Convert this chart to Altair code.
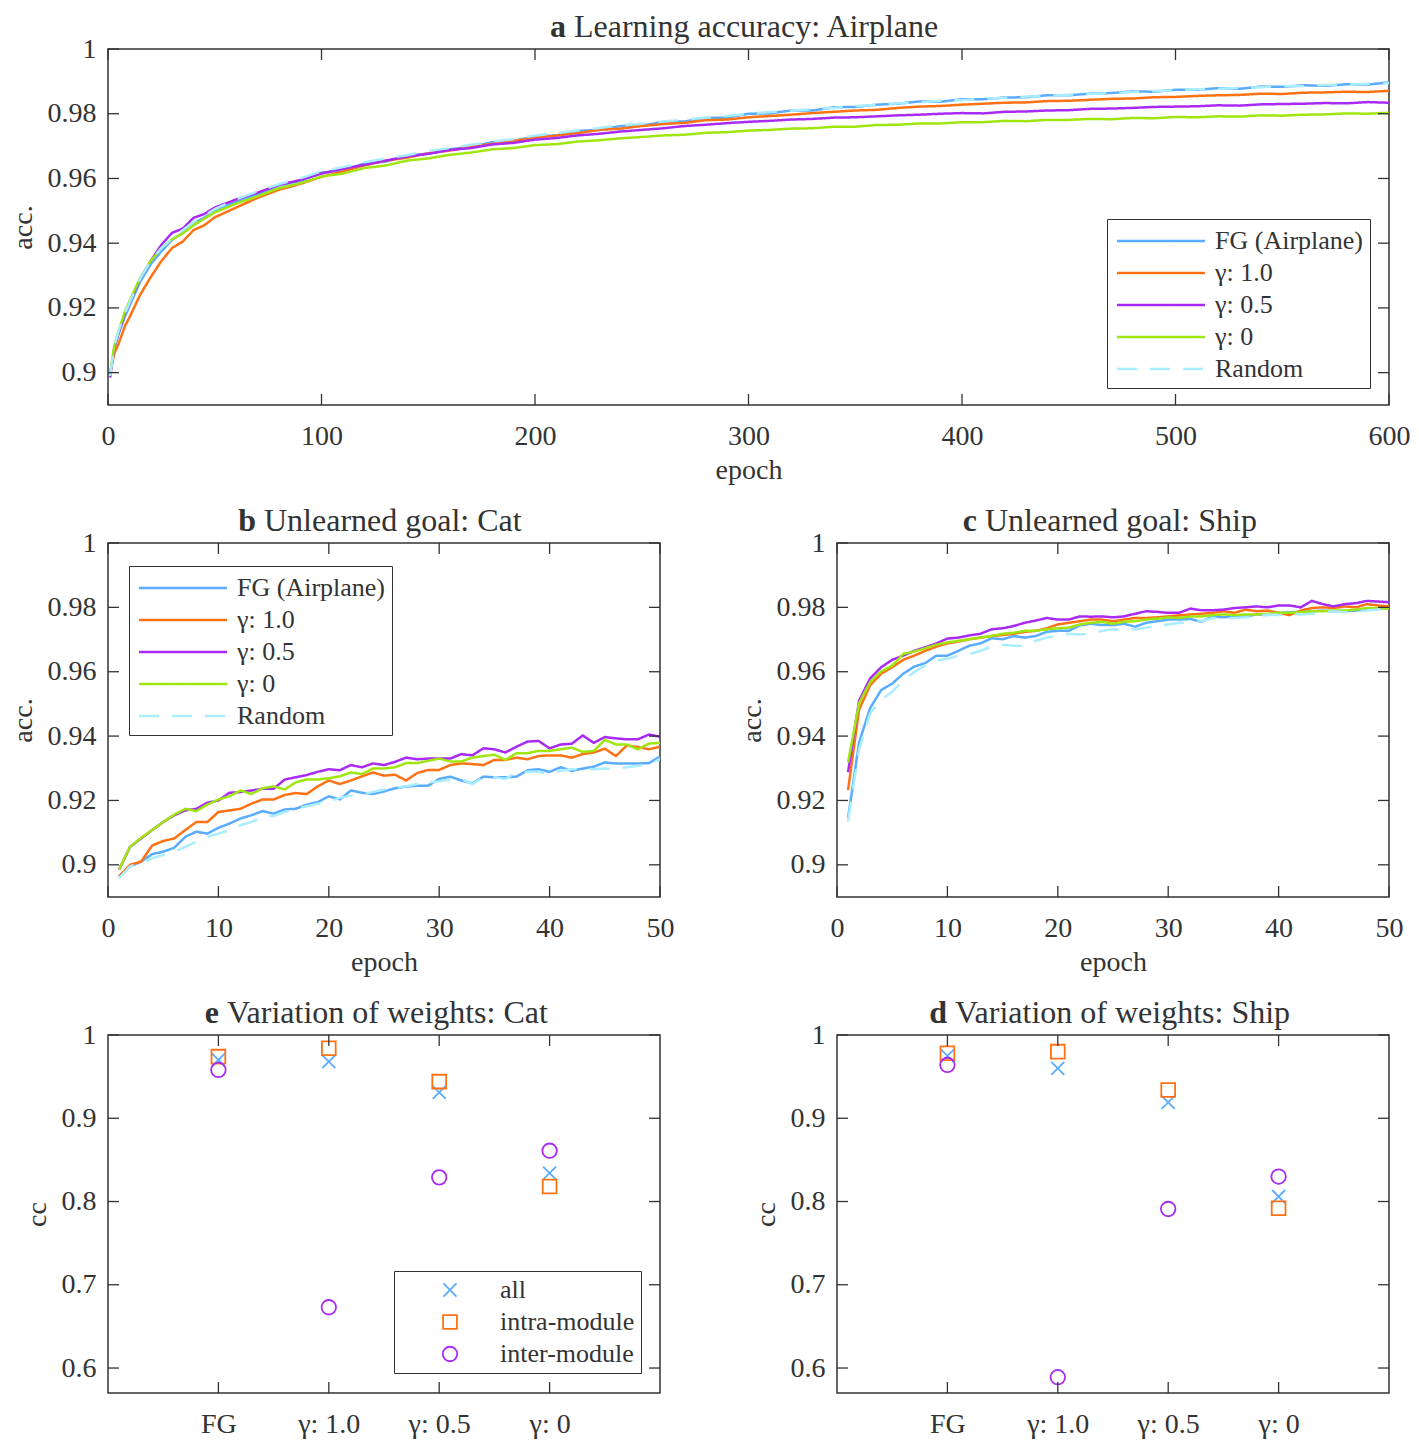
import altair as alt
import pandas as pd

FONT = "Liberation Serif"
INK = "#333333"

SERIES = ["FG (Airplane)", "γ: 1.0", "γ: 0.5", "γ: 0", "Random"]
SERIES_COLORS = ["#59acff", "#ff7214", "#a92af5", "#9fe610", "#a9edff"]
SERIES_DASH = [[1, 0], [1, 0], [1, 0], [1, 0], [20, 13]]

# ---------------- panel a : learning accuracy (Airplane) ----------------
epoch_a = [1, 3, 5, 8, 10, 15, 20, 25, 30, 35, 40, 45, 50,
           60, 70, 80, 90, 100, 110, 120, 130, 140, 150,
           160, 170, 180, 190, 200, 210, 220, 230, 240, 250,
           260, 270, 280, 290, 300, 310, 320, 330, 340, 350,
           360, 370, 380, 390, 400, 410, 420, 430, 440, 450,
           460, 470, 480, 490, 500, 510, 520, 530, 540, 550,
           560, 570, 580, 590, 600]
fg_a = [0.8995, 0.9075, 0.9120, 0.9175, 0.9205, 0.9280, 0.9335, 0.9375, 0.9410, 0.9432, 0.9462, 0.9478, 0.9500,
        0.9528, 0.9550, 0.9578, 0.9592, 0.9618, 0.9625, 0.9646, 0.9652, 0.9670, 0.9677,
        0.9690, 0.9698, 0.9712, 0.9716, 0.9730, 0.9733, 0.9747, 0.9750, 0.9762, 0.9763,
        0.9775, 0.9776, 0.9787, 0.9788, 0.9800, 0.9801, 0.9810, 0.9810, 0.9820, 0.9821,
        0.9828, 0.9831, 0.9838, 0.9837, 0.9845, 0.9845, 0.9850, 0.9851, 0.9857, 0.9857,
        0.9862, 0.9864, 0.9869, 0.9868, 0.9874, 0.9874, 0.9879, 0.9877, 0.9884, 0.9883,
        0.9888, 0.9886, 0.9891, 0.9890, 0.9897]
g10_a = [0.9000, 0.9060, 0.9090, 0.9145, 0.9170, 0.9240, 0.9295, 0.9345, 0.9385, 0.9405, 0.9440, 0.9455, 0.9480,
         0.9510, 0.9540, 0.9565, 0.9583, 0.9605, 0.9622, 0.9640, 0.9655, 0.9664, 0.9678,
         0.9686, 0.9698, 0.9707, 0.9716, 0.9725, 0.9733, 0.9740, 0.9750, 0.9754, 0.9762,
         0.9768, 0.9772, 0.9780, 0.9782, 0.9789, 0.9793, 0.9797, 0.9802, 0.9806, 0.9810,
         0.9812, 0.9818, 0.9822, 0.9824, 0.9828, 0.9831, 0.9834, 0.9835, 0.9839, 0.9840,
         0.9843, 0.9846, 0.9847, 0.9851, 0.9852, 0.9855, 0.9857, 0.9858, 0.9862, 0.9861,
         0.9865, 0.9866, 0.9868, 0.9867, 0.9871]
g05_a = [0.8985, 0.9080, 0.9125, 0.9185, 0.9215, 0.9290, 0.9345, 0.9395, 0.9432, 0.9445, 0.9478, 0.9490, 0.9510,
         0.9535, 0.9556, 0.9580, 0.9595, 0.9615, 0.9630, 0.9642, 0.9655, 0.9668, 0.9676,
         0.9688, 0.9694, 0.9705, 0.9710, 0.9720, 0.9725, 0.9733, 0.9738, 0.9745, 0.9750,
         0.9755, 0.9762, 0.9766, 0.9771, 0.9775, 0.9778, 0.9782, 0.9784, 0.9788, 0.9789,
         0.9792, 0.9795, 0.9797, 0.9800, 0.9802, 0.9801, 0.9806, 0.9807, 0.9810, 0.9811,
         0.9815, 0.9816, 0.9818, 0.9821, 0.9822, 0.9823, 0.9826, 0.9825, 0.9829, 0.9830,
         0.9831, 0.9833, 0.9832, 0.9836, 0.9834]
g0_a = [0.8995, 0.9085, 0.9130, 0.9190, 0.9220, 0.9292, 0.9345, 0.9385, 0.9412, 0.9430, 0.9455, 0.9475, 0.9495,
        0.9522, 0.9545, 0.9570, 0.9585, 0.9606, 0.9615, 0.9632, 0.9640, 0.9655, 0.9662,
        0.9673, 0.9680, 0.9690, 0.9694, 0.9703, 0.9706, 0.9714, 0.9718, 0.9724, 0.9728,
        0.9733, 0.9735, 0.9741, 0.9743, 0.9748, 0.9750, 0.9754, 0.9755, 0.9760, 0.9760,
        0.9765, 0.9766, 0.9770, 0.9770, 0.9774, 0.9774, 0.9778, 0.9777, 0.9781, 0.9781,
        0.9784, 0.9783, 0.9787, 0.9786, 0.9790, 0.9789, 0.9792, 0.9791, 0.9795, 0.9794,
        0.9797, 0.9798, 0.9801, 0.9800, 0.9803]
rand_a = [0.8990, 0.9085, 0.9130, 0.9185, 0.9215, 0.9290, 0.9345, 0.9385, 0.9415, 0.9440, 0.9465, 0.9485, 0.9505,
          0.9535, 0.9560, 0.9582, 0.9600, 0.9622, 0.9635, 0.9650, 0.9662, 0.9672, 0.9685,
          0.9694, 0.9704, 0.9714, 0.9722, 0.9733, 0.9740, 0.9748, 0.9756, 0.9764, 0.9769,
          0.9776, 0.9782, 0.9788, 0.9793, 0.9800, 0.9805, 0.9809, 0.9815, 0.9818, 0.9824,
          0.9827, 0.9832, 0.9835, 0.9840, 0.9842, 0.9847, 0.9849, 0.9853, 0.9855, 0.9859,
          0.9861, 0.9864, 0.9867, 0.9870, 0.9872, 0.9876, 0.9877, 0.9880, 0.9882, 0.9885,
          0.9886, 0.9889, 0.9890, 0.9893, 0.9894]

# ---------------- panels b / c : unlearned goals ----------------
epoch_bc = list(range(1, 51))
fg_cat = [0.8964, 0.8995, 0.9010, 0.9033, 0.9041, 0.9053, 0.9087, 0.9103, 0.9097, 0.9115,
          0.9128, 0.9144, 0.9154, 0.9167, 0.9159, 0.9172, 0.9174, 0.9187, 0.9195, 0.9213,
          0.9203, 0.9231, 0.9224, 0.9220, 0.9228, 0.9238, 0.9243, 0.9246, 0.9246, 0.9267,
          0.9274, 0.9262, 0.9253, 0.9274, 0.9272, 0.9272, 0.9274, 0.9294, 0.9297, 0.9289,
          0.9303, 0.9292, 0.9299, 0.9305, 0.9318, 0.9315, 0.9315, 0.9315, 0.9316, 0.9336]
g10_cat = [0.8964, 0.9000, 0.9010, 0.9060, 0.9074, 0.9082, 0.9108, 0.9133, 0.9133, 0.9164,
           0.9169, 0.9174, 0.9190, 0.9203, 0.9203, 0.9217, 0.9223, 0.9220, 0.9244, 0.9262,
           0.9251, 0.9262, 0.9275, 0.9287, 0.9277, 0.9280, 0.9262, 0.9285, 0.9295, 0.9295,
           0.9310, 0.9315, 0.9313, 0.9310, 0.9326, 0.9326, 0.9333, 0.9328, 0.9338, 0.9340,
           0.9340, 0.9333, 0.9344, 0.9349, 0.9361, 0.9338, 0.9371, 0.9366, 0.9359, 0.9367]
g05_cat = [0.8985, 0.9056, 0.9082, 0.9108, 0.9133, 0.9154, 0.9169, 0.9174, 0.9193, 0.9200,
           0.9224, 0.9226, 0.9231, 0.9236, 0.9236, 0.9265, 0.9272, 0.9279, 0.9289, 0.9297,
           0.9294, 0.9310, 0.9303, 0.9315, 0.9310, 0.9320, 0.9333, 0.9328, 0.9330, 0.9330,
           0.9330, 0.9344, 0.9340, 0.9362, 0.9359, 0.9349, 0.9367, 0.9383, 0.9385, 0.9362,
           0.9374, 0.9376, 0.9402, 0.9379, 0.9397, 0.9393, 0.9390, 0.9390, 0.9405, 0.9398]
g0_cat = [0.8985, 0.9056, 0.9084, 0.9108, 0.9133, 0.9156, 0.9174, 0.9167, 0.9187, 0.9203,
          0.9213, 0.9231, 0.9220, 0.9238, 0.9244, 0.9234, 0.9256, 0.9265, 0.9265, 0.9269,
          0.9275, 0.9287, 0.9282, 0.9299, 0.9299, 0.9303, 0.9316, 0.9316, 0.9323, 0.9330,
          0.9321, 0.9321, 0.9333, 0.9338, 0.9342, 0.9326, 0.9347, 0.9347, 0.9354, 0.9354,
          0.9359, 0.9364, 0.9351, 0.9354, 0.9388, 0.9374, 0.9374, 0.9359, 0.9377, 0.9379]
rand_cat = [0.8959, 0.8995, 0.9005, 0.9020, 0.9031, 0.9041, 0.9056, 0.9072, 0.9087, 0.9097,
            0.9108, 0.9123, 0.9133, 0.9151, 0.9152, 0.9164, 0.9174, 0.9182, 0.9190, 0.9197,
            0.9208, 0.9215, 0.9220, 0.9226, 0.9234, 0.9240, 0.9244, 0.9251, 0.9256, 0.9260,
            0.9265, 0.9267, 0.9251, 0.9272, 0.9272, 0.9267, 0.9287, 0.9289, 0.9289, 0.9282,
            0.9292, 0.9297, 0.9299, 0.9297, 0.9299, 0.9297, 0.9303, 0.9308, 0.9313, 0.9328]

fg_ship = [0.9145, 0.9380, 0.9487, 0.9543, 0.9563, 0.9594, 0.9616, 0.9627, 0.9650, 0.9650,
           0.9665, 0.9681, 0.9688, 0.9704, 0.9701, 0.9711, 0.9706, 0.9711, 0.9724, 0.9727,
           0.9727, 0.9744, 0.9749, 0.9745, 0.9745, 0.9749, 0.9740, 0.9752, 0.9757, 0.9762,
           0.9762, 0.9764, 0.9755, 0.9772, 0.9769, 0.9772, 0.9772, 0.9778, 0.9776, 0.9783,
           0.9785, 0.9786, 0.9788, 0.9790, 0.9788, 0.9788, 0.9790, 0.9796, 0.9796, 0.9798]
g10_ship = [0.9232, 0.9482, 0.9558, 0.9594, 0.9614, 0.9637, 0.9650, 0.9665, 0.9678, 0.9688,
            0.9694, 0.9701, 0.9706, 0.9711, 0.9714, 0.9718, 0.9724, 0.9727, 0.9735, 0.9747,
            0.9752, 0.9757, 0.9762, 0.9762, 0.9757, 0.9762, 0.9767, 0.9767, 0.9769, 0.9772,
            0.9775, 0.9778, 0.9780, 0.9783, 0.9788, 0.9783, 0.9793, 0.9788, 0.9790, 0.9783,
            0.9776, 0.9790, 0.9798, 0.9800, 0.9798, 0.9803, 0.9800, 0.9810, 0.9806, 0.9803]
g05_ship = [0.9288, 0.9510, 0.9579, 0.9614, 0.9637, 0.9650, 0.9665, 0.9676, 0.9688, 0.9703,
            0.9706, 0.9713, 0.9718, 0.9732, 0.9735, 0.9742, 0.9752, 0.9759, 0.9767, 0.9762,
            0.9762, 0.9772, 0.9771, 0.9772, 0.9769, 0.9772, 0.9780, 0.9788, 0.9786, 0.9783,
            0.9783, 0.9796, 0.9791, 0.9791, 0.9793, 0.9798, 0.9800, 0.9803, 0.9800, 0.9806,
            0.9806, 0.9800, 0.9820, 0.9810, 0.9803, 0.9810, 0.9813, 0.9820, 0.9818, 0.9816]
g0_ship = [0.9318, 0.9502, 0.9568, 0.9601, 0.9619, 0.9655, 0.9663, 0.9673, 0.9684, 0.9691,
           0.9696, 0.9701, 0.9706, 0.9711, 0.9718, 0.9721, 0.9727, 0.9727, 0.9732, 0.9735,
           0.9737, 0.9747, 0.9752, 0.9755, 0.9749, 0.9755, 0.9757, 0.9762, 0.9765, 0.9769,
           0.9767, 0.9772, 0.9772, 0.9776, 0.9778, 0.9776, 0.9778, 0.9778, 0.9780, 0.9783,
           0.9783, 0.9785, 0.9788, 0.9788, 0.9790, 0.9790, 0.9793, 0.9798, 0.9798, 0.9796]
rand_ship = [0.9135, 0.9359, 0.9471, 0.9512, 0.9538, 0.9573, 0.9599, 0.9620, 0.9635, 0.9640,
             0.9650, 0.9655, 0.9665, 0.9678, 0.9684, 0.9681, 0.9680, 0.9696, 0.9706, 0.9711,
             0.9718, 0.9716, 0.9718, 0.9727, 0.9732, 0.9729, 0.9732, 0.9737, 0.9742, 0.9747,
             0.9752, 0.9752, 0.9757, 0.9767, 0.9765, 0.9767, 0.9769, 0.9772, 0.9778, 0.9776,
             0.9780, 0.9778, 0.9780, 0.9783, 0.9788, 0.9785, 0.9788, 0.9790, 0.9793, 0.9793]

# ---------------- panels e / d : variation of weights ----------------
METHODS = ["FG", "γ: 1.0", "γ: 0.5", "γ: 0"]
KINDS = ["all", "intra-module", "inter-module"]
KIND_COLORS = ["#59acff", "#ff7214", "#a92af5"]
cat_all = [0.970, 0.968, 0.931, 0.834]
cat_intra = [0.974, 0.984, 0.944, 0.818]
cat_inter = [0.958, 0.673, 0.829, 0.861]
ship_all = [0.975, 0.960, 0.919, 0.806]
ship_intra = [0.978, 0.980, 0.934, 0.792]
ship_inter = [0.964, 0.589, 0.791, 0.830]

# axis ticks
ticks_acc = [0.9, 0.92, 0.94, 0.96, 0.98, 1.0]
ticks_epoch_a = [0, 100, 200, 300, 400, 500, 600]
ticks_epoch_bc = [0, 10, 20, 30, 40, 50]
ticks_cc = [0.6, 0.7, 0.8, 0.9, 1.0]

TITLES = {
    "a": "Learning accuracy: Airplane",
    "b": "Unlearned goal: Cat",
    "c": "Unlearned goal: Ship",
    "e": "Variation of weights: Cat",
    "d": "Variation of weights: Ship",
}

CROSS = "M-1,-1L1,1M-1,1L1,-1"
LEGEND_LINE = "M-3,0H3"
TICK_LEN = 11

W_A, H_A = 1281, 356
W_S, H_BC, H_ED = 552, 354, 358
GAP_X = 177
LINE_LEG_W, LINE_LEG_H = 263, 169
PT_LEG_W, PT_LEG_H = 246, 102


def series_frame(epochs, lists):
    rows = []
    for name, vals in zip(SERIES, lists):
        for e, v in zip(epochs, vals):
            rows.append({"epoch": e, "acc": v, "series": name})
    return pd.DataFrame(rows)


def title_layers(letter, split_x):
    df = pd.DataFrame({"letter": [letter], "text": [TITLES[letter]]})
    bold = alt.Chart(df).mark_text(font=FONT, fontSize=32, fontWeight="bold", align="right",
                                   baseline="alphabetic", color=INK).encode(
        text="letter:N", x=alt.value(split_x - 4), y=alt.value(-12))
    rest = alt.Chart(df).mark_text(font=FONT, fontSize=32, align="left",
                                   baseline="alphabetic", color=INK).encode(
        text="text:N", x=alt.value(split_x + 4), y=alt.value(-12))
    return [bold, rest]


def tick_layers(x_enc_field, xs, x_axis, x_df, ys, y_axis, y_vals, w, h):
    ydf = pd.DataFrame({"v": y_vals})
    left = alt.Chart(ydf).mark_rule(color=INK, strokeWidth=1.3).encode(
        y=alt.Y("v:Q", scale=ys, axis=y_axis), x=alt.value(0), x2=alt.value(TICK_LEN))
    right = alt.Chart(ydf).mark_rule(color=INK, strokeWidth=1.3).encode(
        y=alt.Y("v:Q", scale=ys, axis=y_axis), x=alt.value(w - TICK_LEN), x2=alt.value(w))
    bottom = alt.Chart(x_df).mark_rule(color=INK, strokeWidth=1.3).encode(
        x=alt.X(x_enc_field, scale=xs, axis=x_axis), y=alt.value(h - TICK_LEN), y2=alt.value(h))
    top = alt.Chart(x_df).mark_rule(color=INK, strokeWidth=1.3).encode(
        x=alt.X(x_enc_field, scale=xs, axis=x_axis), y=alt.value(0), y2=alt.value(TICK_LEN))
    return [left, right, bottom, top]


def line_legend(lx, ly):
    return alt.Legend(orient="none", legendX=lx, legendY=ly, title=None, direction="vertical",
                      strokeColor=INK, fillColor="white", padding=6,
                      symbolType=LEGEND_LINE, symbolSize=860, symbolStrokeWidth=2.6,
                      symbolOffset=32,
                      labelFont=FONT, labelFontSize=26, labelColor=INK, labelOffset=38,
                      rowPadding=3, labelLimit=400)


def line_panel(epochs, lists, x_domain, x_ticks, w, h, letter, split_x, lx, ly):
    df = series_frame(epochs, lists)
    xs = alt.Scale(domain=x_domain, nice=False, zero=False)
    ys = alt.Scale(domain=[0.89, 1.0], nice=False, zero=False)
    x_axis = alt.Axis(values=x_ticks, title="epoch", format="d")
    y_axis = alt.Axis(values=ticks_acc, title="acc.", format=".2~f")
    leg = line_legend(lx, ly)
    lines = alt.Chart(df).mark_line(strokeWidth=2.5, clip=True).encode(
        x=alt.X("epoch:Q", scale=xs, axis=x_axis),
        y=alt.Y("acc:Q", scale=ys, axis=y_axis),
        color=alt.Color("series:N", scale=alt.Scale(domain=SERIES, range=SERIES_COLORS), legend=leg),
        strokeDash=alt.StrokeDash("series:N", scale=alt.Scale(domain=SERIES, range=SERIES_DASH), legend=leg),
    )
    xdf = pd.DataFrame({"v": x_ticks})
    layers = [lines] + tick_layers("v:Q", xs, x_axis, xdf, ys, y_axis, ticks_acc, w, h) \
        + title_layers(letter, split_x)
    return alt.layer(*layers).properties(width=w, height=h)


def scatter_panel(v_all, v_intra, v_inter, letter, split_x, lx, ly, w=W_S, h=H_ED):
    rows = []
    for kind, vals in zip(KINDS, [v_all, v_intra, v_inter]):
        for m, v in zip(METHODS, vals):
            rows.append({"method": m, "cc": v, "kind": kind})
    df = pd.DataFrame(rows)
    xs = alt.Scale(type="point", domain=METHODS, padding=1)
    ys = alt.Scale(domain=[0.57, 1.0], nice=False, zero=False)
    x_axis = alt.Axis(title=None, labelAngle=0)
    y_axis = alt.Axis(values=ticks_cc, title="cc", format=".1~f")
    leg = alt.Legend(orient="none", legendX=lx, legendY=ly, title=None, direction="vertical",
                     strokeColor=INK, fillColor="white", padding=6,
                     symbolStrokeWidth=1.8, symbolOffset=37,
                     labelFont=FONT, labelFontSize=26, labelColor=INK, labelOffset=37,
                     rowPadding=6, labelLimit=400)
    pts = alt.Chart(df).mark_point(filled=False, strokeWidth=1.8, opacity=1).encode(
        x=alt.X("method:N", scale=xs, sort=METHODS, axis=x_axis),
        y=alt.Y("cc:Q", scale=ys, axis=y_axis),
        color=alt.Color("kind:N", scale=alt.Scale(domain=KINDS, range=KIND_COLORS), legend=leg),
        shape=alt.Shape("kind:N", scale=alt.Scale(domain=KINDS, range=[CROSS, "square", "circle"]), legend=leg),
        size=alt.Size("kind:N", scale=alt.Scale(domain=KINDS, range=[170, 210, 340]), legend=leg),
    )
    mdf = pd.DataFrame({"method": METHODS})
    layers = [pts] + tick_layers("method:N", xs, x_axis, mdf, ys, y_axis, ticks_cc, w, h) \
        + title_layers(letter, split_x)
    return alt.layer(*layers).properties(width=w, height=h)


panel_a = line_panel(epoch_a, [fg_a, g10_a, g05_a, g0_a, rand_a], [0, 600], ticks_epoch_a,
                     W_A, H_A, "a", 462, W_A - 19 - LINE_LEG_W, H_A - 17 - LINE_LEG_H)
panel_b = line_panel(epoch_bc, [fg_cat, g10_cat, g05_cat, g0_cat, rand_cat], [0, 50], ticks_epoch_bc,
                     W_S, H_BC, "b", 152, 21, 23)
panel_c = line_panel(epoch_bc, [fg_ship, g10_ship, g05_ship, g0_ship, rand_ship], [0, 50], ticks_epoch_bc,
                     W_S, H_BC, "c", 144, W_S - 16 - LINE_LEG_W, H_BC - 20 - LINE_LEG_H)
panel_e = scatter_panel(cat_all, cat_intra, cat_inter, "e", 115, W_S - 20 - PT_LEG_W, H_ED - 20 - PT_LEG_H)
panel_d = scatter_panel(ship_all, ship_intra, ship_inter, "d", 114, W_S - 20 - PT_LEG_W, H_ED - 20 - PT_LEG_H)

row2 = alt.hconcat(panel_b, panel_c, spacing=GAP_X, bounds="flush")
row3 = alt.hconcat(panel_e, panel_d, spacing=GAP_X, bounds="flush")

chart = alt.vconcat(panel_a, row2, row3, spacing=19).properties(
    padding={"left": 0, "top": 2, "right": 0, "bottom": 0}
).resolve_scale(color="independent", strokeDash="independent", shape="independent", size="independent"
).configure_view(stroke=INK, strokeWidth=1.5).configure_axis(
    labelFont=FONT, labelFontSize=28, labelColor=INK,
    titleFont=FONT, titleFontSize=28, titleFontWeight="normal", titleColor=INK,
    ticks=False, tickSize=0, domain=False, grid=False, labelFlush=False, labelOverlap=False,
).configure_axisX(labelPadding=17, titlePadding=6).configure_axisY(labelPadding=12, titlePadding=10)

chart.save("out.html", embed_options={"renderer": "svg", "actions": False})
